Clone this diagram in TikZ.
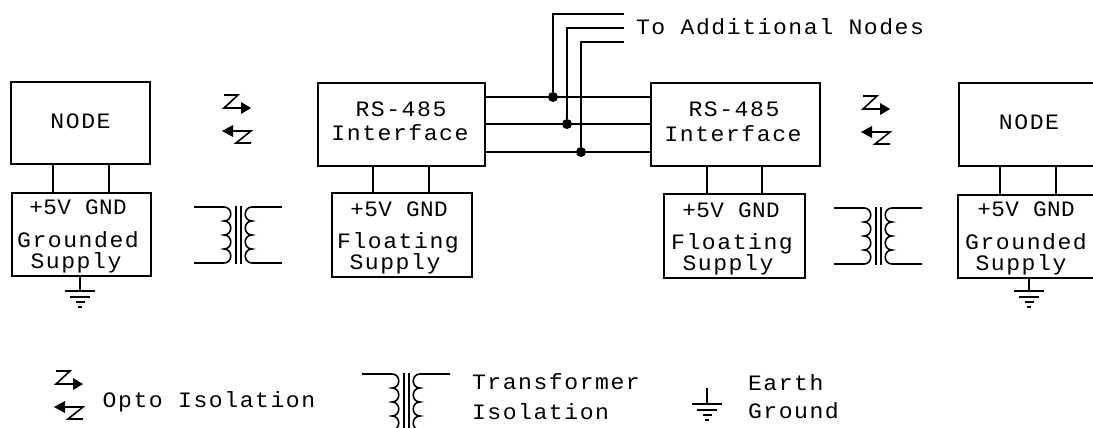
\documentclass[tikz,border=0pt]{standalone}
\usepackage{fontspec}
\newfontfamily\dosfont[FakeStretch=1.05,LetterSpace=7]{Liberation Mono}
\newfontfamily\dosnarrow[FakeStretch=1.03,LetterSpace=2]{Liberation Mono}
\tikzset{
  x=1pt,y=-1pt,
  wire/.style={line width=1.6pt,black},
  box/.style={draw=black,line width=1.9pt,rectangle,inner sep=0pt,outer sep=0pt,fill=none},
  lbl/.style={font=\dosfont\fontsize{22}{22}\selectfont,inner sep=0pt,outer sep=0pt,text height=14.5pt,text depth=0pt,text=black},
  lbln/.style={lbl,font=\dosnarrow\fontsize{22}{22}\selectfont},
  dotj/.style={circle,fill=black,inner sep=0pt,minimum size=10pt},
  xfmr/.pic={
    \draw[wire] (0,0) -- (30,0)
      .. controls (39,0) and (39,14) .. (30,14)
      .. controls (39,14) and (39,28) .. (30,28)
      .. controls (39,28) and (39,42) .. (30,42)
      .. controls (39,42) and (39,56) .. (30,56) -- (0,56);
    \draw[wire] (88,0) -- (58,0)
      .. controls (49,0) and (49,14) .. (58,14)
      .. controls (49,14) and (49,28) .. (58,28)
      .. controls (49,28) and (49,42) .. (58,42)
      .. controls (49,42) and (49,56) .. (58,56) -- (88,56);
    \draw[line width=1.9pt] (42,-1) -- (42,57);
    \draw[line width=1.9pt] (47,-1) -- (47,57);
  },
  opto/.pic={
    \draw[wire] (0,0) -- (14,0) -- (0,13) -- (18,13);
    \fill (17,7) -- (27,13) -- (17,19) -- cycle;
    \fill (-2,36) -- (9,30) -- (9,42) -- cycle;
    \draw[wire] (9,36) -- (27,36) -- (12,48) -- (27,48);
  },
  earth/.pic={
    \draw[line width=1.6pt] (-15,0) -- (15,0);
    \draw[line width=1.6pt] (-10,6) -- (10,6);
    \draw[line width=2pt] (-4.5,11) -- (4.5,11);
    \fill (-2,15) rectangle (2,17);
  }
}
\begin{document}
\begin{tikzpicture}
\useasboundingbox (0,0) rectangle (1093,428);
\clip (0,0) rectangle (1093,428);
% boxes
\node[box,minimum width=139pt,minimum height=82pt] (n1) at (80.5,123) {};
\node[box,minimum width=139pt,minimum height=83pt] (s1) at (81.5,234.5) {};
\node[box,minimum width=167pt,minimum height=83pt] (r1) at (401.5,124.5) {};
\node[box,minimum width=140pt,minimum height=84pt] (f1) at (402,235) {};
\node[box,minimum width=169pt,minimum height=83pt] (r2) at (735.5,124.5) {};
\node[box,minimum width=141pt,minimum height=84pt] (f2) at (734.5,236) {};
\node[box,minimum width=140pt,minimum height=83pt] (n2) at (1029,124.5) {};
\node[box,minimum width=142pt,minimum height=83pt] (s2) at (1029,236.5) {};
% labels
\node[lbl] (tn1) at (80.5,121) {NODE};
\node[lbln] (tp1) at (78,207) {+5V GND};
\node[lbl] (tg1) at (78,240) {Grounded};
\node[lbl] (tu1) at (76,261) {Supply};
\node[lbl] (tr1) at (401,109) {RS-485};
\node[lbl] (ti1) at (400,133) {Interface};
\node[lbln] (tq1) at (399,209) {+5V GND};
\node[lbl] (tf1) at (398,241) {Floating};
\node[lbl] (tv1) at (395,262) {Supply};
\node[lbl] (tr2) at (734,109) {RS-485};
\node[lbl] (ti2) at (733,134) {Interface};
\node[lbln] (tq2) at (731,210) {+5V GND};
\node[lbl] (tf2) at (732,242) {Floating};
\node[lbl] (tv2) at (728,263) {Supply};
\node[lbl] (tn2) at (1029,122) {NODE};
\node[lbln] (tp2) at (1026,209) {+5V GND};
\node[lbl] (tg2) at (1026,242) {Grounded};
\node[lbl] (tu2) at (1021,263) {Supply};
\node[lbl,anchor=west] (tadd) at (636,27) {To Additional Nodes};
\node[lbl] (topt) at (209,400) {Opto Isolation};
\node[lbl,anchor=west] (ttr) at (472,382) {Transformer};
\node[lbl,anchor=west] (tis) at (472,412) {Isolation};
\node[lbl,anchor=west] (tea) at (748,383) {Earth};
\node[lbl,anchor=west] (tgr) at (748,411) {Ground};
% node to supply
\draw[wire] (53,0 |- n1.south) -- (53,0 |- s1.north);
\draw[wire] (109,0 |- n1.south) -- (109,0 |- s1.north);
\draw[wire] (373,0 |- r1.south) -- (373,0 |- f1.north);
\draw[wire] (429,0 |- r1.south) -- (429,0 |- f1.north);
\draw[wire] (707,0 |- r2.south) -- (707,0 |- f2.north);
\draw[wire] (762,0 |- r2.south) -- (762,0 |- f2.north);
\draw[wire] (1000,0 |- n2.south) -- (1000,0 |- s2.north);
\draw[wire] (1056,0 |- n2.south) -- (1056,0 |- s2.north);
% bus
\node[dotj] (j1) at (553,97) {};
\node[dotj] (j2) at (567,124) {};
\node[dotj] (j3) at (581,152) {};
\coordinate (e1) at (624,14);
\coordinate (e2) at (624,28);
\coordinate (e3) at (624,42);
\draw[wire] (r1.east |- j1) -- (r2.west |- j1);
\draw[wire] (r1.east |- j2) -- (r2.west |- j2);
\draw[wire] (r1.east |- j3) -- (r2.west |- j3);
\draw[wire] (j1) |- (e1);
\draw[wire] (j2) |- (e2);
\draw[wire] (j3) |- (e3);
% grounds
\coordinate (g1) at (80,291);
\coordinate (g2) at (1029,291);
\coordinate (g3) at (707,404);
\coordinate (g3t) at (707,388);
\draw[line width=2.2pt] (s1.south -| g1) -- (g1);
\draw[line width=2.2pt] (s2.south -| g2) -- (g2);
\draw[line width=1.8pt] (g3t) -- (g3);
\pic at (g1) {earth};
\pic at (g2) {earth};
\pic at (g3) {earth};
% transformers
\pic at (194,207) {xfmr};
\pic at (834,208) {xfmr};
\pic at (362,374) {xfmr};
% opto
\pic at (224,95) {opto};
\pic at (863,96) {opto};
\pic at (56,371) {opto};
\end{tikzpicture}
\end{document}
